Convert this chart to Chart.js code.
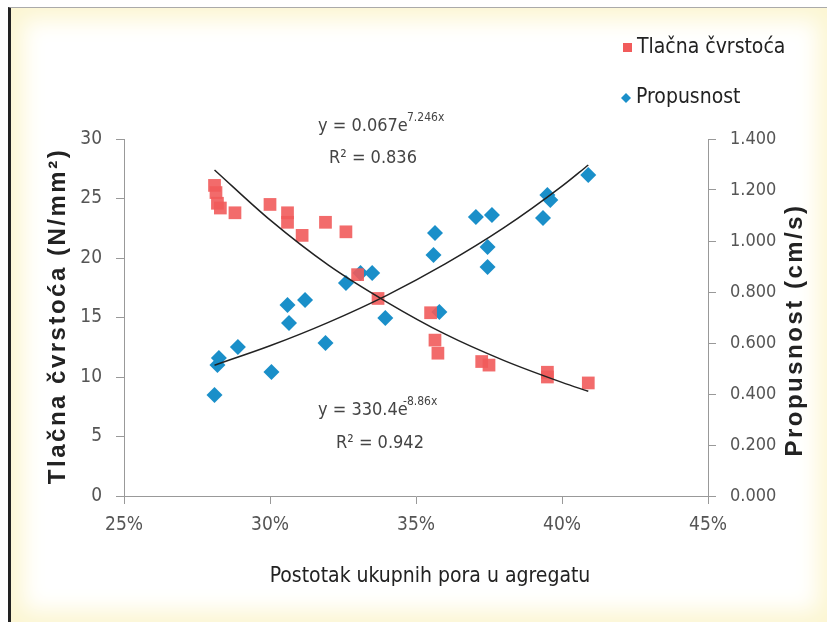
<!DOCTYPE html>
<html>
<head>
<meta charset="utf-8">
<script src="https://cdn.jsdelivr.net/npm/chart.js@4.4.1/dist/chart.umd.min.js"></script>
<style>
  html, body { margin: 0; padding: 0; background: #fff; }
  .frame {
    position: absolute; left: 8px; top: 7px; width: 819px; height: 615px;
    border-left: 3px solid #222; border-top: 1px solid #aaa;
    background: #fff;
    box-shadow: inset 0 0 22px 12px #fcf6d2;
  }
  #chart { position: absolute; left: 0; top: 0; }
</style>
</head>
<body>
<div class="frame"></div>
<canvas id="chart" width="827" height="622"></canvas>
<script>
// Tlačna čvrstoća (N/mm2) vs. pore percentage
const strengthX = [28.1, 28.15, 28.2, 28.3, 28.8, 30.0, 30.6, 30.6, 31.1, 31.9, 32.6, 33.0, 33.7,
  35.5, 35.65, 35.75, 37.25, 37.5, 39.5, 39.5, 40.9];
const strengthY = [26.1, 25.5, 24.6, 24.2, 23.8, 24.5, 23.8, 23.0, 21.9, 23.0, 22.2, 18.6, 16.6,
  15.4, 13.1, 12.0, 11.3, 11.0, 10.4, 10.0, 9.5];

// Propusnost (cm/s) vs. pore percentage
const permX = [28.1, 28.2, 28.25, 28.9, 30.05, 30.6, 30.65, 31.2, 31.9, 32.6, 33.1, 33.5, 33.95,
  35.6, 35.65, 35.8, 37.05, 37.45, 37.45, 37.6, 39.35, 39.5, 39.6, 40.9];
const permY = [0.396, 0.514, 0.541, 0.584, 0.486, 0.749, 0.678, 0.769, 0.600, 0.835, 0.875, 0.875, 0.698,
  0.945, 1.031, 0.722, 1.094, 0.976, 0.898, 1.102, 1.090, 1.180, 1.161, 1.259];

// trend lines
const trendX = [28.1, 30, 32, 34, 36, 38, 40, 40.9];
const strengthTrend = [27.4, 23.2, 19.4, 16.3, 13.6, 11.4, 9.55, 8.8];
const permTrend = [0.513, 0.589, 0.681, 0.787, 0.910, 1.051, 1.215, 1.298];

const xTicks = [25, 30, 35, 40, 45];

const toPoints = (xs, ys) => xs.map((x, i) => ({ x: x, y: ys[i] }));

const narrow = "'Liberation Sans Narrow', 'DejaVu Sans Condensed', sans-serif";
const bold = "'Liberation Sans', Arial, sans-serif";

const textPlugin = {
  id: "texts",
  afterDraw(chart) {
    const ctx = chart.ctx;
    ctx.save();
    ctx.textBaseline = "middle";

    // legend
    ctx.fillStyle = "#f15b5b";
    ctx.fillRect(623, 43, 9, 9);
    ctx.fillStyle = "#1a8fc9";
    ctx.beginPath();
    ctx.moveTo(626, 93); ctx.lineTo(631, 98); ctx.lineTo(626, 103); ctx.lineTo(621, 98);
    ctx.closePath(); ctx.fill();
    ctx.fillStyle = "#222";
    ctx.font = "21px " + narrow;
    ctx.textAlign = "left";
    ctx.fillText("Tlačna čvrstoća", 637, 48);
    ctx.fillText("Propusnost", 636, 98);

    // equations
    ctx.fillStyle = "#444";
    ctx.font = "18px " + narrow;
    ctx.fillText("y = 0.067e", 318, 126);
    ctx.font = "12px " + narrow;
    ctx.fillText("7.246x", 407, 118);
    ctx.font = "18px " + narrow;
    ctx.textAlign = "center";
    ctx.fillText("R² = 0.836", 373, 158);
    ctx.textAlign = "left";
    ctx.fillText("y = 330.4e", 318, 410);
    ctx.font = "12px " + narrow;
    ctx.fillText("-8.86x", 403, 402);
    ctx.font = "18px " + narrow;
    ctx.textAlign = "center";
    ctx.fillText("R² = 0.942", 380, 443);

    // axis titles
    ctx.fillStyle = "#222";
    ctx.font = "21px " + narrow;
    ctx.fillText("Postotak ukupnih pora u agregatu", 430, 577);
    ctx.font = "bold 24px " + bold;
    ctx.letterSpacing = "2.5px";
    ctx.translate(58, 316);
    ctx.rotate(-Math.PI / 2);
    ctx.fillText("Tlačna čvrstoća (N/mm²)", 0, 0);
    ctx.rotate(Math.PI / 2);
    ctx.translate(-58, -316);
    ctx.translate(795, 330);
    ctx.rotate(-Math.PI / 2);
    ctx.fillText("Propusnost (cm/s)", 0, 0);
    ctx.restore();
  }
};

new Chart(document.getElementById("chart").getContext("2d"), {
  type: "scatter",
  data: {
    datasets: [
      {
        type: "line",
        data: toPoints(trendX, strengthTrend),
        yAxisID: "y",
        borderColor: "#222",
        borderWidth: 1.5,
        pointRadius: 0,
        cubicInterpolationMode: "monotone",
        fill: false,
      },
      {
        type: "line",
        data: toPoints(trendX, permTrend),
        yAxisID: "y1",
        borderColor: "#222",
        borderWidth: 1.5,
        pointRadius: 0,
        cubicInterpolationMode: "monotone",
        fill: false,
      },
      {
        label: "Tlačna čvrstoća",
        data: toPoints(strengthX, strengthY),
        yAxisID: "y",
        pointStyle: "rect",
        pointRadius: 9,
        backgroundColor: "rgba(241, 91, 91, 0.9)",
        borderWidth: 0,
      },
      {
        label: "Propusnost",
        data: toPoints(permX, permY),
        yAxisID: "y1",
        pointStyle: "rectRot",
        pointRadius: 8,
        backgroundColor: "#1a8fc9",
        borderWidth: 0,
      },
    ],
  },
  options: {
    responsive: false,
    animation: false,
    layout: { padding: { top: 139, left: 0, right: 0, bottom: 0 } },
    plugins: { legend: { display: false }, tooltip: { enabled: false } },
    scales: {
      x: {
        type: "linear",
        min: 25,
        max: 45,
        afterBuildTicks: (s) => { s.ticks = xTicks.map((v) => ({ value: v })); },
        afterFit: (s) => { s.height = 126; },
        grid: { drawOnChartArea: false, tickLength: 8, color: "#999" },
        border: { color: "#999" },
        ticks: {
          padding: 10,
          color: "#555",
          font: { family: narrow, size: 19 },
          callback: (v) => v + "%",
        },
      },
      y: {
        position: "left",
        min: 0,
        max: 30,
        afterFit: (s) => { s.width = 124; },
        grid: { drawOnChartArea: false, tickLength: 8, color: "#999" },
        border: { color: "#999" },
        ticks: { stepSize: 5, padding: 14, color: "#555", font: { family: narrow, size: 19 } },
      },
      y1: {
        position: "right",
        min: 0,
        max: 1.4,
        afterFit: (s) => { s.width = 119; },
        grid: { drawOnChartArea: false, tickLength: 8, color: "#999" },
        border: { color: "#999" },
        ticks: {
          stepSize: 0.2,
          padding: 14,
          color: "#555",
          font: { family: narrow, size: 18 },
          callback: (v) => v.toFixed(3),
        },
      },
    },
  },
  plugins: [textPlugin],
});
</script>
</body>
</html>
